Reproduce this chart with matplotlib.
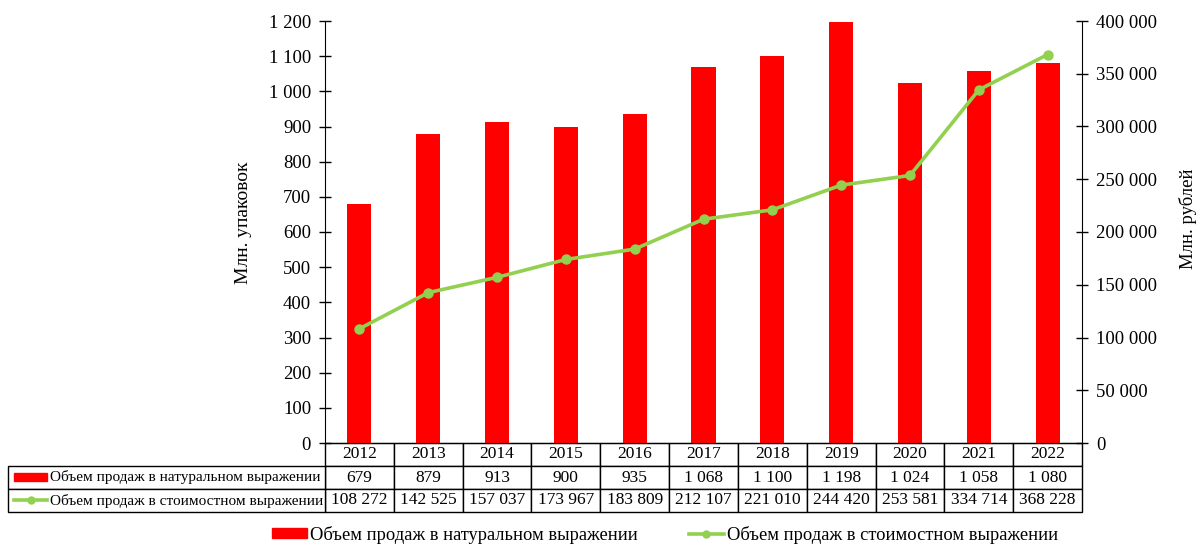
import matplotlib
matplotlib.use("Agg")
import matplotlib.pyplot as plt
from matplotlib.lines import Line2D
from matplotlib.patches import Patch, Rectangle
from matplotlib.ticker import FuncFormatter, MultipleLocator

plt.rcParams.update({'font.family': 'Liberation Serif', 'font.size': 13.5})

years = [2012, 2013, 2014, 2015, 2016, 2017, 2018, 2019, 2020, 2021, 2022]
units = [679, 879, 913, 900, 935, 1068, 1100, 1198, 1024, 1058, 1080]
value = [108272, 142525, 157037, 173967, 183809, 212107,
         221010, 244420, 253581, 334714, 368228]
units_label = "Объем продаж в натуральном выражении"
value_label = "Объем продаж в стоимостном выражении"

RED = '#FF0000'
GREEN = '#92D050'
W, H = 1196, 546


def spaced(v, pos=None):
    return f"{v:,.0f}".replace(",", " ")


fig = plt.figure(figsize=(W / 100, H / 100), dpi=100)
ax = fig.add_axes([325 / W, 1 - 443 / H, (1082 - 325) / W, (443 - 21) / H])
x = list(range(len(years)))

ax.bar(x, units, width=0.35, color=RED, zorder=2)
ax.set_xlim(-0.5, len(years) - 0.5)
ax.set_ylim(0, 1200)
ax.yaxis.set_major_locator(MultipleLocator(100))
ax.yaxis.set_major_formatter(FuncFormatter(spaced))
ax.set_xticks([])

ax2 = ax.twinx()
ax2.plot(x, value, color=GREEN, lw=2.6, marker='o', ms=6.5, zorder=3)
ax2.set_ylim(0, 400000)
ax2.yaxis.set_major_locator(MultipleLocator(50000))
ax2.yaxis.set_major_formatter(FuncFormatter(spaced))

for s in ['top', 'right']:
    ax.spines[s].set_visible(False)
for s in ['top', 'left', 'bottom']:
    ax2.spines[s].set_visible(False)

for a in (ax, ax2):
    a.tick_params(axis='y', direction='inout', length=8, width=1, pad=6,
                  labelsize=13.5)

ax.set_ylabel("Млн. упаковок", fontsize=14)
ax.yaxis.set_label_coords(-0.0964, 0.521)
ax2.set_ylabel("Млн. рублей", fontsize=13.5)
ax2.yaxis.set_label_coords(1.1282, 0.531)

# data table under the chart: years and values
tbl = ax.table(cellText=[[spaced(v) for v in units],
                         [spaced(v) for v in value]],
               colLabels=[str(y) for y in years],
               cellLoc='center',
               bbox=[0, -69 / 422, 1, 69 / 422])
tbl.auto_set_font_size(False)
tbl.set_fontsize(12.5)

# row captions to the left of the values
rows = ax.table(cellText=[[units_label], [value_label]],
                cellLoc='left',
                bbox=[(8 - 325) / 757, -69 / 422, 317 / 757, 46 / 422])
rows.auto_set_font_size(False)
rows.set_fontsize(11)

for t in (tbl, rows):
    for cell in t.get_celld().values():
        cell.set_edgecolor('black')
        cell.set_linewidth(1)
for cell in rows.get_celld().values():
    cell.PAD = 0.132

# legend keys inside the row captions
fig.add_artist(Rectangle((14 / W, 1 - 481 / H), 33 / W, 8 / H,
                         transform=fig.transFigure, color=RED))
fig.add_artist(Line2D([14 / W, 47 / W], [1 - 500 / H] * 2, color=GREEN, lw=2.6,
                      transform=fig.transFigure))
fig.add_artist(Line2D([30.5 / W], [1 - 500 / H], color=GREEN, marker='o', ms=5,
                      transform=fig.transFigure))

handles = [Patch(color=RED),
           Line2D([], [], color=GREEN, lw=2.6, marker='o', ms=5)]
fig.legend(handles, [units_label, value_label], loc='center',
           bbox_to_anchor=(665 / W, 1 - 535 / H), ncol=2, frameon=False,
           fontsize=13.3, handlelength=1.9, handleheight=0.45,
           handletextpad=0.16, columnspacing=2.75)

fig.savefig("out.png", dpi=100)
